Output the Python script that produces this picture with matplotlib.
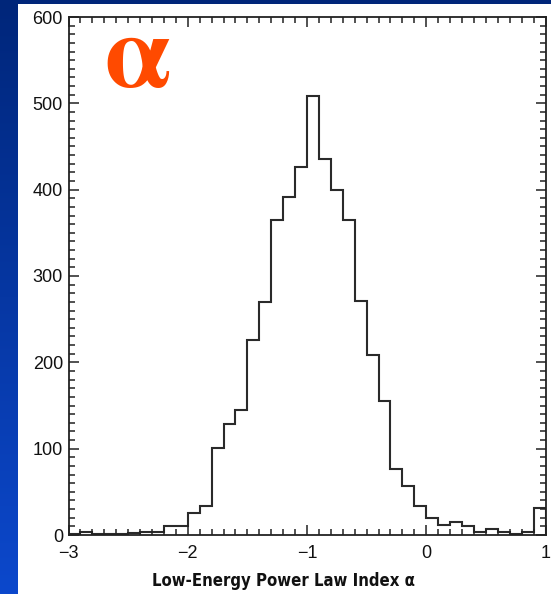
import numpy as np
import matplotlib
matplotlib.use("Agg")
import matplotlib.pyplot as plt
from matplotlib.ticker import MultipleLocator

# Histogram of the low-energy power-law index alpha, 0.1-wide bins from -3 to 1
bin_edges = np.round(np.arange(-3.0, 1.0001, 0.1), 2)
counts = [1, 4, 1, 1, 1, 2, 4, 4, 11, 11,
          25, 34, 101, 129, 145, 226, 270, 365, 391, 426,
          508, 436, 400, 365, 271, 209, 155, 76, 57, 34,
          20, 12, 15, 11, 4, 7, 4, 1, 3, 31]

x_ticks = [-3, -2, -1, 0, 1]
x_ticklabels = ["\u22123", "\u22122", "\u22121", "0", "1"]
y_ticks = [0, 100, 200, 300, 400, 500, 600]
x_label = "Low-Energy Power Law Index \u03b1"
title_symbol = "\u03b1"

W, H = 551, 594
fig = plt.figure(figsize=(W / 100, H / 100), dpi=100, facecolor="white")

# blue slide border: a vertical gradient strip on the left and a band on top
left_bg = fig.add_axes([0, 0, 18 / W, 1])
grad = np.linspace(0, 1, 256).reshape(-1, 1)
top_c = np.array([0x00, 0x26, 0x7a]) / 255
bot_c = np.array([0x0c, 0x48, 0xcc]) / 255
img = top_c[None, None, :] * (1 - grad[:, :, None]) + bot_c[None, None, :] * grad[:, :, None]
left_bg.imshow(img, aspect="auto", extent=[0, 1, 0, 1])
left_bg.set_axis_off()
top_bg = fig.add_axes([0, 1 - 4 / H, 1, 4 / H])
top_bg.set_facecolor("#00267a")
top_bg.set_xticks([])
top_bg.set_yticks([])
for s in top_bg.spines.values():
    s.set_visible(False)

ax = fig.add_axes([68.5 / W, 1 - 535 / H, (545.5 - 68.5) / W, (535 - 17) / H])
ax.stairs(counts, bin_edges, color="#2a2a2a", linewidth=1.5, baseline=0)

ax.set_xlim(-3, 1)
ax.set_ylim(0, 600)
ax.set_xticks(x_ticks)
ax.set_xticklabels(x_ticklabels)
ax.set_yticks(y_ticks)
ax.xaxis.set_minor_locator(MultipleLocator(0.1))
ax.yaxis.set_minor_locator(MultipleLocator(10))

for lab in ax.get_xticklabels() + ax.get_yticklabels():
    lab.set_fontfamily(["Liberation Sans", "DejaVu Sans"])
    lab.set_fontsize(13)
    lab.set_color("#111111")

ax.tick_params(which="both", direction="in", top=True, right=True,
               color="#222222", width=1.1)
ax.tick_params(which="major", length=7)
ax.tick_params(which="minor", length=4)
ax.tick_params(axis="x", which="major", pad=7)
ax.tick_params(axis="y", which="major", pad=4)
for s in ax.spines.values():
    s.set_linewidth(1.3)
    s.set_color("#222222")

fig.text(284 / W, 1 - 586 / H, x_label, ha="center", va="baseline",
         family=["DejaVu Sans"], fontstretch="condensed",
         fontweight="bold", fontsize=12, color="#111111")

fig.text(104 / W, 1 - 87 / H, title_symbol, ha="left", va="baseline",
         family=["STIXGeneral", "DejaVu Serif"], fontweight="bold",
         fontsize=75, color="#ff4a00")

fig.savefig("out.png", dpi=100, facecolor="white")
